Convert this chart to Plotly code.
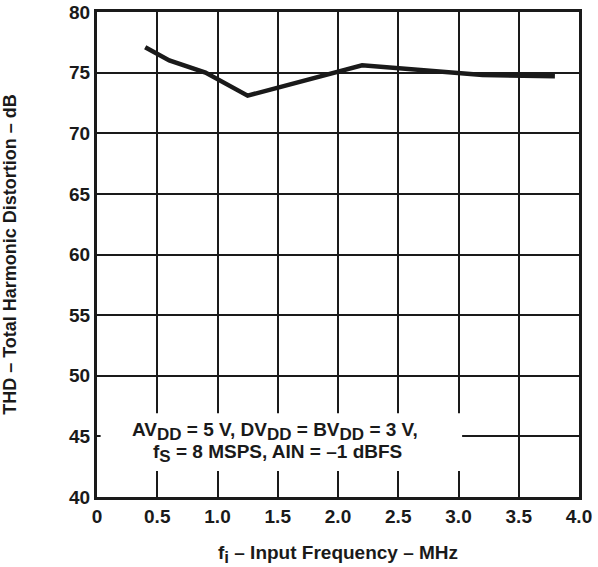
import plotly.graph_objects as go

freq_mhz = [0.4, 0.6, 0.9, 1.25, 2.2, 2.5, 3.0, 3.2, 3.8]
thd_db = [77.1, 76.0, 75.0, 73.1, 75.6, 75.35, 75.0, 74.8, 74.7]

x_ticks = [0, 0.5, 1.0, 1.5, 2.0, 2.5, 3.0, 3.5, 4.0]
x_tick_labels = ["0", "0.5", "1.0", "1.5", "2.0", "2.5", "3.0", "3.5", "4.0"]
y_ticks = [40, 45, 50, 55, 60, 65, 70, 75, 80]

font_family = "Liberation Sans, Arial, sans-serif"
ink = "#1a1a1a"
fs = 19

fig = go.Figure()
fig.add_trace(go.Scatter(
    x=freq_mhz, y=thd_db, mode="lines",
    line=dict(color=ink, width=4.5),
    hoverinfo="skip", showlegend=False,
))

axis_common = dict(
    showgrid=True, gridcolor=ink, gridwidth=2,
    showline=True, linecolor=ink, linewidth=3, mirror=True,
    zeroline=False, ticks="", automargin=False, ticklabeloverflow="allow",
    tickfont=dict(family=font_family, size=fs, color=ink, weight="bold"),
)

fig.update_layout(
    width=598, height=567,
    margin=dict(l=97, r=19, t=12, b=70),
    paper_bgcolor="white", plot_bgcolor="white",
    xaxis=dict(range=[0, 4.0], tickvals=x_ticks, ticktext=x_tick_labels,
               title=dict(text='<b>f<sub><span style="font-size:17px">i</span></sub> – Input Frequency – MHz</b>',
                          font=dict(family=font_family, size=fs, color=ink),
                          standoff=23),
               **axis_common),
    yaxis=dict(range=[40, 80], tickvals=y_ticks,
               title=dict(text="<b>THD – Total Harmonic Distortion – dB</b>",
                          font=dict(family=font_family, size=fs - 1, color=ink),
                          standoff=48),
               **axis_common),
    font=dict(family=font_family, color=ink),
)

fig.add_shape(type="rect", xref="x", yref="y", x0=0.03, x1=3.03, y0=42.15, y1=46.9,
              fillcolor="white", line=dict(width=0), layer="above")

def sub(s):
    return '<sub><span style="font-size:17px">' + s + '</span></sub>'

line1 = "<b>AV" + sub("DD") + " = 5 V, DV" + sub("DD") + " = BV" + sub("DD") + " = 3 V,</b>"
line2 = "<b>f" + sub("S") + " = 8 MSPS, AIN = –1 dBFS</b>"

fig.add_annotation(xref="x", yref="y", x=1.476, y=45.4, text=line1,
                   showarrow=False, font=dict(family=font_family, size=fs, color=ink))
fig.add_annotation(xref="x", yref="y", x=1.50, y=43.55, text=line2,
                   showarrow=False, font=dict(family=font_family, size=fs, color=ink))

fig.write_html("out.html", config={"displayModeBar": False},
               post_script="document.body.style.margin='0';")
